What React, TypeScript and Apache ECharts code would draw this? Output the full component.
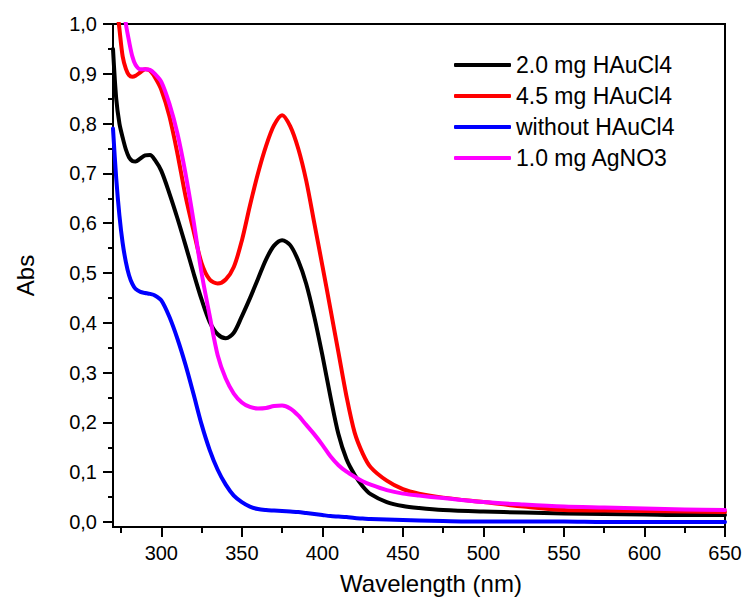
import React, { useEffect, useRef } from "react";
import * as echarts from "echarts";

// Wavelength grid (nm) shared by every spectrum
const wavelengths = [
  270, 272, 274, 276, 278, 280, 282, 284, 287, 290, 293, 296, 300, 305, 310, 315, 320, 325, 330, 335,
  340, 345, 350, 355, 360, 365, 370, 375, 380, 385, 390, 395, 400, 405, 410, 415, 420, 425, 430, 440,
  450, 460, 475, 500, 525, 550, 575, 600, 625, 650,
];

// Absorbance of each sample at the wavelengths above
const abs20mgHAuCl4 = [
  0.95, 0.85, 0.8, 0.772, 0.748, 0.732, 0.725, 0.724, 0.73, 0.736, 0.737, 0.727, 0.705, 0.66, 0.61, 0.556, 0.5, 0.447, 0.402, 0.377,
  0.369, 0.38, 0.413, 0.449, 0.488, 0.527, 0.555, 0.566, 0.556, 0.525, 0.478, 0.412, 0.335, 0.252, 0.176, 0.126, 0.095, 0.072, 0.056, 0.04,
  0.032, 0.028, 0.024, 0.021, 0.019, 0.017, 0.016, 0.015, 0.014, 0.014,
];
const abs45mgHAuCl4 = [
  1.15, 1.05, 0.99, 0.935, 0.91, 0.897, 0.894, 0.896, 0.903, 0.909, 0.906, 0.893, 0.868, 0.815, 0.74, 0.655, 0.585, 0.52, 0.487, 0.479,
  0.487, 0.512, 0.565, 0.635, 0.7, 0.755, 0.797, 0.817, 0.795, 0.75, 0.685, 0.6, 0.515, 0.428, 0.34, 0.252, 0.18, 0.138, 0.11, 0.083,
  0.066, 0.057, 0.049, 0.04, 0.031, 0.024, 0.023, 0.022, 0.021, 0.02,
];
const absWithoutHAuCl4 = [
  0.79, 0.69, 0.615, 0.56, 0.522, 0.495, 0.478, 0.468, 0.462, 0.46, 0.458, 0.455, 0.445, 0.412, 0.368, 0.316, 0.257, 0.196, 0.145, 0.105,
  0.075, 0.053, 0.04, 0.031, 0.026, 0.024, 0.023, 0.022, 0.021, 0.02, 0.018, 0.016, 0.014, 0.012, 0.011, 0.01, 0.008, 0.007, 0.006, 0.005,
  0.004, 0.003, 0.002, 0.001, 0.001, 0.001, 0.0, 0.0, 0.0, 0.0,
];
const abs10mgAgNO3 = [
  1.3, 1.2, 1.12, 1.05, 1.0, 0.965, 0.935, 0.918, 0.909, 0.909, 0.908, 0.9, 0.884, 0.84, 0.78, 0.7, 0.605, 0.5, 0.415, 0.335,
  0.288, 0.258, 0.24, 0.231, 0.228, 0.229, 0.233, 0.234, 0.228, 0.214, 0.195, 0.176, 0.155, 0.132, 0.114, 0.101, 0.091, 0.082, 0.075, 0.064,
  0.057, 0.053, 0.048, 0.04, 0.035, 0.031, 0.029, 0.027, 0.025, 0.024,
];

const seriesNames = ["2.0 mg HAuCl4", "4.5 mg HAuCl4", "without HAuCl4", "1.0 mg AgNO3"];
const seriesColors = ["#000000", "#ff0000", "#0000ff", "#ff00ff"];
const seriesValues = [abs20mgHAuCl4, abs45mgHAuCl4, absWithoutHAuCl4, abs10mgAgNO3];

// Tick positions
const xMajorTicks = [300, 350, 400, 450, 500, 550, 600, 650];
const xMinorTicks = [275, 325, 375, 425, 475, 525, 575, 625];
const yMajorTicks = [0, 0.1, 0.2, 0.3, 0.4, 0.5, 0.6, 0.7, 0.8, 0.9, 1.0];
const yMinorTicks = [0.05, 0.15, 0.25, 0.35, 0.45, 0.55, 0.65, 0.75, 0.85, 0.95];

const FONT = "'Liberation Sans', Arial, sans-serif";

export default function App() {
  const ref = useRef<HTMLDivElement>(null);

  useEffect(() => {
    if (!ref.current) return;
    const chart = echarts.init(ref.current, undefined, { renderer: "svg" });

    const xBase = { type: "value", min: 270, max: 650, gridIndex: 0, position: "bottom" } as const;
    const yBase = { type: "value", min: -0.01, max: 1.0, gridIndex: 0, position: "left" } as const;

    chart.setOption({
      animation: false,
      backgroundColor: "#ffffff",
      grid: {
        left: 113,
        right: 21,
        top: 24,
        bottom: 78,
        show: true,
        borderColor: "#000",
        borderWidth: 2,
        containLabel: false,
      },
      legend: {
        orient: "vertical",
        left: 449,
        top: 48,
        itemWidth: 57,
        itemHeight: 4,
        itemGap: 7,
        icon: "roundRect",
        data: seriesNames,
        textStyle: { fontFamily: FONT, fontSize: 23, color: "#000", lineHeight: 24 },
      },
      xAxis: [
        {
          ...xBase,
          name: "Wavelength (nm)",
          nameLocation: "middle",
          nameGap: 44,
          nameTextStyle: { fontFamily: FONT, fontSize: 24, color: "#000", padding: [0, 0, 0, 24] },
          axisLine: { show: true, onZero: false, lineStyle: { color: "#000", width: 2 } },
          axisTick: { show: true, length: 10, customValues: xMajorTicks, lineStyle: { color: "#000", width: 2 } },
          axisLabel: {
            customValues: xMajorTicks,
            margin: 16,
            fontFamily: FONT,
            fontSize: 20,
            color: "#000",
            formatter: (v: number) => String(v),
          },
          splitLine: { show: false },
        },
        {
          ...xBase,
          axisLine: { show: false, onZero: false },
          axisTick: { show: true, length: 6, customValues: xMinorTicks, lineStyle: { color: "#000", width: 2 } },
          axisLabel: { show: false },
          splitLine: { show: false },
        },
      ],
      yAxis: [
        {
          ...yBase,
          name: "Abs",
          nameLocation: "middle",
          nameGap: 76,
          nameTextStyle: { fontFamily: FONT, fontSize: 24, color: "#000" },
          axisLine: { show: true, onZero: false, lineStyle: { color: "#000", width: 2 } },
          axisTick: { show: true, length: 10, customValues: yMajorTicks, lineStyle: { color: "#000", width: 2 } },
          axisLabel: {
            customValues: yMajorTicks,
            margin: 16,
            fontFamily: FONT,
            fontSize: 20,
            color: "#000",
            formatter: (v: number) => v.toFixed(1).replace(".", ","),
          },
          splitLine: { show: false },
        },
        {
          ...yBase,
          axisLine: { show: false, onZero: false },
          axisTick: { show: true, length: 5, customValues: yMinorTicks, lineStyle: { color: "#000", width: 2 } },
          axisLabel: { show: false },
          splitLine: { show: false },
        },
      ],
      series: seriesNames.map((name, i) => ({
        name,
        type: "line",
        xAxisIndex: 0,
        yAxisIndex: 0,
        data: wavelengths.map((w, j) => [w, seriesValues[i][j]]),
        smooth: 0.3,
        showSymbol: false,
        symbol: "none",
        clip: true,
        color: seriesColors[i],
        lineStyle: { color: seriesColors[i], width: 4, cap: "round", join: "round" },
      })),
    });

    return () => {
      chart.dispose();
    };
  }, []);

  return (
    <div
      ref={ref}
      style={{ position: "fixed", left: 0, top: 0, width: 746, height: 605, background: "#fff" }}
    />
  );
}
